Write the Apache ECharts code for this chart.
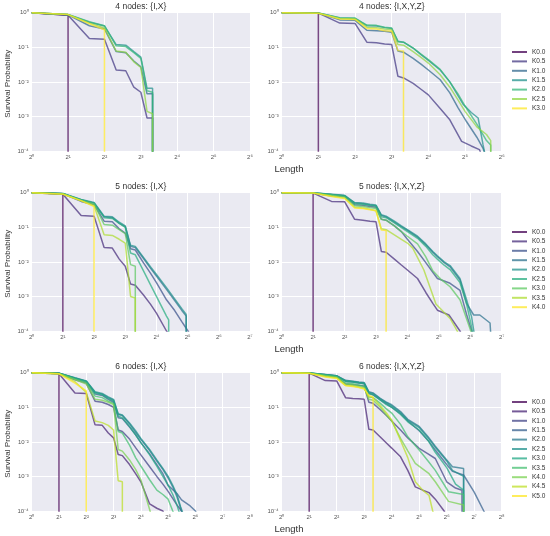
<!DOCTYPE html>
<html><head><meta charset="utf-8">
<script src="https://cdn.jsdelivr.net/npm/echarts@6/dist/echarts.min.js"></script>
<style>html,body{margin:0;padding:0;background:#fff}#c{width:550px;height:536px}</style>
</head><body><div id="c"></div><script>
// ---------- tick / legend labels ----------
const keys4 = ['K0.0','K0.5','K1.0','K1.5','K2.0','K2.5','K3.0'];
const keys5 = ['K0.0','K0.5','K1.0','K1.5','K2.0','K2.5','K3.0','K3.5','K4.0'];
const keys6 = ['K0.0','K0.5','K1.0','K1.5','K2.0','K2.5','K3.0','K3.5','K4.0','K4.5','K5.0'];
const viridis7 = ['#440154','#443983','#31688e','#21918c','#35b779','#90d743','#fde725'];
const viridis9 = ['#440154','#472d7b','#3b528b','#2c728e','#21918c','#28ae80','#5ec962','#addc30','#fde725'];
const viridis11 = ['#440154','#482475','#414487','#355f8d','#2a788e','#21918c','#22a884','#44bf70','#7ad151','#bddf26','#fde725'];
const titles = ['4 nodes: {I,X}','4 nodes: {I,X,Y,Z}','5 nodes: {I,X}','5 nodes: {I,X,Y,Z}','6 nodes: {I,X}','6 nodes: {I,X,Y,Z}'];
const xMaxByRow = [64, 128, 256];
const yMin = 1e-4, yMax = 1;

// ---------- data: [length, survival probability]; 0 = survival reached zero ----------
const n4IX = [
 [[1,1],[2,0.85],[2,0]],
 [[1,1],[2,0.85],[3,0.18],[4,0.17],[5,0.022],[6,0.021],[7,0.007],[8,0.005],[9,0.0009],[10,0.0009],[10,0]],
 [[1,1],[2,0.87],[3,0.42],[4,0.34],[5,0.075],[6,0.07],[7,0.04],[8,0.027],[9,0.0045],[10,0.0045],[10,0]],
 [[1,1],[2,0.88],[3,0.53],[4,0.41],[5,0.12],[6,0.115],[7,0.075],[8,0.052],[9,0.0065],[10,0.0065],[10,0]],
 [[1,1],[2,0.89],[3,0.55],[4,0.42],[5,0.11],[6,0.105],[7,0.07],[8,0.048],[9,0.0055],[10,0.005],[10,0]],
 [[1,1],[2,0.88],[3,0.5],[4,0.36],[5,0.078],[6,0.072],[7,0.038],[8,0.026],[9,0.0014],[10,0.0012],[10,0]],
 [[1,1],[2,0.88],[3,0.48],[4,0.32],[4,0]]
];
const n4IXYZ = [
 [[1,1],[2,0.98],[2,0]],
 [[1,1],[2,0.97],[3,0.5],[4,0.49],[5,0.14],[6,0.135],[7,0.125],[8,0.12],[9,0.0145],[10,0.013],[12,0.009],[14,0.006],[16,0.0042],[20,0.0017],[24,0.0008],[30,0.00019],[36,0.00014],[42,0.00011],[46,0.00005]],
 [[1,1],[2,0.97],[3,0.62],[4,0.6],[5,0.31],[6,0.3],[7,0.29],[8,0.27],[9,0.078],[10,0.072],[12,0.048],[14,0.032],[16,0.022],[20,0.0115],[24,0.0048],[28,0.0018],[33,0.0007],[40,0.00025],[45,0.00012],[48,0.00006]],
 [[1,1],[2,0.98],[3,0.7],[4,0.68],[5,0.42],[6,0.41],[7,0.37],[8,0.35],[9,0.15],[10,0.14],[12,0.095],[14,0.06],[16,0.042],[20,0.022],[24,0.01],[28,0.004],[31,0.0022],[36,0.0013],[41,0.0009],[45,0.00015],[48,0.00005]],
 [[1,1],[2,0.98],[3,0.72],[4,0.7],[5,0.44],[6,0.43],[7,0.38],[8,0.36],[9,0.145],[10,0.14],[12,0.095],[14,0.062],[16,0.044],[20,0.023],[24,0.01],[28,0.0045],[32,0.002],[40,0.0006],[48,0.0002],[52,0.00015],[52,0]],
 [[1,1],[2,0.97],[3,0.68],[4,0.66],[5,0.38],[6,0.37],[7,0.34],[8,0.32],[9,0.12],[10,0.115],[12,0.075],[14,0.05],[16,0.035],[20,0.016],[24,0.007],[28,0.003],[32,0.0014],[40,0.0005],[48,0.0003],[52,0.0002],[52,0]],
 [[1,1],[2,0.97],[3,0.66],[4,0.64],[5,0.35],[6,0.34],[7,0.3],[8,0.29],[9,0.08],[10,0.078],[10,0]]
];
const n5IX = [
 [[1,1],[2,0.93],[2,0]],
 [[1,1],[2,0.9],[3,0.22],[4,0.21],[5,0.026],[6,0.025],[7,0.012],[8,0.0075],[9,0.0023],[10,0.0021],[12,0.0011],[14,0.0006],[16,0.00033],[20,0.0001],[22,0.00007]],
 [[1,1],[2,0.93],[3,0.56],[4,0.45],[5,0.15],[6,0.145],[7,0.09],[8,0.068],[9,0.024],[10,0.022],[12,0.0093],[14,0.0047],[16,0.0025],[20,0.0008],[24,0.00039],[28,0.00019],[31,0.00012],[33,0.00009]],
 [[1,1],[2,0.94],[3,0.62],[4,0.5],[5,0.2],[6,0.19],[7,0.13],[8,0.105],[9,0.028],[10,0.026],[12,0.0125],[14,0.0066],[16,0.0039],[20,0.0016],[24,0.00076],[28,0.0004],[31,0.00027],[31,0]],
 [[1,1],[2,0.95],[3,0.64],[4,0.52],[5,0.21],[6,0.2],[7,0.14],[8,0.11],[9,0.03],[10,0.028],[12,0.0135],[14,0.0072],[16,0.0043],[20,0.0018],[24,0.00085],[28,0.00045],[31,0.0003],[31,0]],
 [[1,1],[2,0.95],[3,0.63],[4,0.5],[5,0.19],[6,0.18],[7,0.13],[8,0.1],[9,0.018],[10,0.016],[12,0.0055],[14,0.0022],[16,0.001],[20,0.00027],[21,0.00021],[21,0]],
 [[1,1],[2,0.93],[3,0.6],[4,0.47],[5,0.12],[6,0.115],[7,0.085],[8,0.065],[9,0.0083],[10,0.0075],[10,0]],
 [[1,1],[2,0.92],[3,0.58],[4,0.42],[5,0.061],[6,0.058],[7,0.045],[8,0.035],[9,0.001],[10,0.0009],[10,0]],
 [[1,1],[2,0.9],[3,0.59],[4,0.4],[4,0]]
];
const n5IXYZ = [
 [[1,1],[2,0.98],[2,0]],
 [[1,1],[2,0.97],[3,0.56],[4,0.55],[5,0.17],[6,0.16],[7,0.15],[8,0.145],[9,0.02],[10,0.019],[12,0.012],[14,0.0081],[16,0.0058],[20,0.0033],[24,0.0013],[28,0.00063],[31,0.0004],[40,0.00029],[51,0.0001],[54,0.00007]],
 [[1,1],[2,0.98],[3,0.8],[4,0.78],[5,0.45],[6,0.43],[7,0.4],[8,0.38],[9,0.17],[10,0.16],[12,0.11],[14,0.075],[16,0.045],[20,0.02],[24,0.0095],[28,0.005],[31,0.0033],[36,0.0028],[41,0.0024],[51,0.0015],[59,0.0003],[66,0.0001],[70,0.00006]],
 [[1,1],[2,0.98],[3,0.88],[4,0.82],[5,0.5],[6,0.48],[7,0.44],[8,0.42],[9,0.22],[10,0.2],[12,0.14],[14,0.105],[16,0.081],[20,0.052],[24,0.031],[28,0.019],[31,0.014],[36,0.0095],[41,0.0072],[51,0.003],[59,0.00063],[69,0.00029],[79,0.00029],[99,0.00017],[102,0.00004]],
 [[1,1],[2,0.99],[3,0.9],[4,0.84],[5,0.52],[6,0.5],[7,0.46],[8,0.44],[9,0.23],[10,0.21],[12,0.15],[14,0.11],[16,0.085],[20,0.055],[24,0.033],[28,0.02],[31,0.015],[36,0.01],[41,0.0078],[51,0.0033],[59,0.0008],[66,0.00025],[70,0.00008]],
 [[1,1],[2,0.99],[3,0.88],[4,0.8],[5,0.48],[6,0.46],[7,0.43],[8,0.41],[9,0.2],[10,0.19],[12,0.135],[14,0.098],[16,0.075],[20,0.048],[24,0.028],[28,0.016],[31,0.012],[36,0.008],[41,0.006],[51,0.0025],[59,0.0006],[64,0.0002],[68,0.00008]],
 [[1,1],[2,0.98],[3,0.85],[4,0.75],[5,0.42],[6,0.4],[7,0.37],[8,0.35],[9,0.17],[10,0.16],[12,0.11],[14,0.075],[16,0.055],[20,0.033],[24,0.014],[28,0.0055],[34,0.003],[41,0.0019],[51,0.0008],[64,0.00011],[68,0.00006]],
 [[1,1],[2,0.98],[3,0.8],[4,0.7],[5,0.38],[6,0.36],[7,0.33],[8,0.3],[9,0.09],[10,0.085],[12,0.06],[14,0.045],[16,0.035],[18,0.025],[23,0.0058],[30,0.0006],[41,0.00023],[48,0.0001],[52,0.00006]],
 [[1,1],[2,0.98],[3,0.78],[4,0.68],[5,0.36],[6,0.35],[7,0.32],[8,0.3],[9,0.083],[10,0.08],[10,0]]
];
const n6IX = [
 [[1,1],[2,0.95],[2,0]],
 [[1,1],[2,0.93],[3,0.26],[4,0.25],[5,0.031],[6,0.03],[7,0.018],[8,0.013],[9,0.0043],[10,0.004],[12,0.0022],[14,0.0012],[16,0.0007],[20,0.00016],[24,0.00012],[28,0.0001],[30,0.00006]],
 [[1,1],[2,0.95],[3,0.62],[4,0.5],[5,0.15],[6,0.14],[7,0.12],[8,0.1],[9,0.022],[10,0.02],[12,0.012],[14,0.0068],[16,0.0042],[20,0.0019],[24,0.001],[28,0.0006],[32,0.00037],[40,0.00015],[45,0.0001],[48,0.00007]],
 [[1,1],[2,0.96],[3,0.68],[4,0.55],[5,0.24],[6,0.22],[7,0.17],[8,0.14],[9,0.05],[10,0.047],[12,0.027],[14,0.016],[16,0.0095],[20,0.0045],[24,0.0022],[28,0.0012],[32,0.00055],[40,0.00032],[45,0.00021],[56,0.00014],[64,0.0001],[68,0.00007]],
 [[1,1],[2,0.96],[3,0.7],[4,0.57],[5,0.27],[6,0.24],[7,0.19],[8,0.16],[9,0.062],[10,0.058],[12,0.033],[14,0.019],[16,0.0118],[20,0.0056],[24,0.0028],[28,0.0016],[32,0.0009],[36,0.0005],[40,0.00026],[44,0.00012],[47,0.00006]],
 [[1,1],[2,0.96],[3,0.71],[4,0.58],[5,0.28],[6,0.25],[7,0.2],[8,0.17],[9,0.065],[10,0.06],[12,0.035],[14,0.021],[16,0.0125],[20,0.006],[24,0.003],[28,0.0017],[32,0.001],[36,0.00055],[40,0.0003],[44,0.00013],[48,0.00007]],
 [[1,1],[2,0.96],[3,0.69],[4,0.56],[5,0.26],[6,0.23],[7,0.18],[8,0.15],[9,0.055],[10,0.05],[12,0.028],[14,0.016],[16,0.0095],[20,0.0042],[24,0.002],[28,0.001],[32,0.00055],[36,0.0003],[40,0.00015],[42,0.0001],[44,0.00006]],
 [[1,1],[2,0.95],[3,0.66],[4,0.52],[5,0.21],[6,0.19],[7,0.15],[8,0.13],[9,0.02],[10,0.018],[12,0.008],[14,0.0035],[16,0.002],[20,0.0008],[24,0.0004],[28,0.0003],[32,0.00022],[36,0.0001],[38,0.00007]],
 [[1,1],[2,0.94],[3,0.63],[4,0.47],[5,0.17],[6,0.16],[7,0.14],[8,0.12],[9,0.006],[10,0.0054],[12,0.003],[14,0.0016],[16,0.0008],[20,0.00011],[21,0.00007]],
 [[1,1],[2,0.93],[3,0.55],[4,0.27],[5,0.04],[6,0.036],[7,0.03],[8,0.022],[9,0.00075],[10,0.0007],[10,0]],
 [[1,1],[2,0.93],[3,0.5],[4,0.3],[4,0]]
];
const n6IXYZ = [
 [[1,1],[2,0.98],[2,0]],
 [[1,1],[2,0.97],[3,0.59],[4,0.58],[5,0.19],[6,0.18],[7,0.175],[8,0.17],[9,0.023],[10,0.022],[12,0.0138],[14,0.0093],[16,0.0066],[20,0.0037],[24,0.0015],[29,0.0005],[35,0.0004],[41,0.00034],[48,0.00022],[60,0.0001],[64,0.00007]],
 [[1,1],[2,0.97],[3,0.8],[4,0.75],[5,0.47],[6,0.45],[7,0.43],[8,0.41],[9,0.14],[10,0.13],[12,0.085],[14,0.058],[16,0.04],[20,0.022],[24,0.013],[32,0.0065],[40,0.0045],[48,0.0033],[64,0.0007],[80,0.00046],[94,0.0004],[96,0]],
 [[1,1],[2,0.98],[3,0.86],[4,0.8],[5,0.56],[6,0.54],[7,0.5],[8,0.48],[9,0.25],[10,0.23],[12,0.165],[14,0.125],[16,0.1],[20,0.065],[24,0.04],[32,0.021],[40,0.011],[48,0.0058],[64,0.0022],[74,0.0014],[98,0.0011],[128,0.00035],[163,0.0001],[170,0.00008]],
 [[1,1],[2,0.98],[3,0.88],[4,0.82],[5,0.6],[6,0.57],[7,0.54],[8,0.52],[9,0.28],[10,0.26],[12,0.18],[14,0.14],[16,0.118],[20,0.075],[24,0.045],[32,0.028],[40,0.014],[48,0.0075],[64,0.003],[74,0.0019],[98,0.0017],[98,0]],
 [[1,1],[2,0.98],[3,0.88],[4,0.81],[5,0.59],[6,0.56],[7,0.52],[8,0.5],[9,0.27],[10,0.25],[12,0.175],[14,0.135],[16,0.11],[20,0.07],[24,0.042],[32,0.026],[40,0.013],[48,0.007],[64,0.0028],[74,0.0015],[98,0.001],[98,0]],
 [[1,1],[2,0.98],[3,0.87],[4,0.8],[5,0.57],[6,0.54],[7,0.5],[8,0.48],[9,0.25],[10,0.23],[12,0.16],[14,0.12],[16,0.1],[20,0.062],[24,0.038],[32,0.022],[40,0.011],[48,0.005],[64,0.0018],[80,0.0006],[98,0.0004],[98,0]],
 [[1,1],[2,0.98],[3,0.84],[4,0.76],[5,0.5],[6,0.48],[7,0.44],[8,0.4],[9,0.2],[10,0.19],[12,0.13],[14,0.09],[16,0.068],[20,0.032],[24,0.014],[32,0.0058],[40,0.0028],[48,0.0015],[67,0.00036],[98,0.0003],[98,0]],
 [[1,1],[2,0.97],[3,0.82],[4,0.73],[5,0.46],[6,0.44],[7,0.4],[8,0.37],[9,0.17],[10,0.16],[12,0.1],[14,0.06],[16,0.04],[20,0.0126],[24,0.0055],[29,0.0024],[41,0.0012],[48,0.0007],[67,0.00019],[98,0.00015],[98,0]],
 [[1,1],[2,0.97],[3,0.78],[4,0.7],[5,0.43],[6,0.41],[7,0.38],[8,0.35],[9,0.2],[10,0.19],[12,0.11],[14,0.068],[16,0.043],[20,0.011],[24,0.0035],[29,0.0007],[35,0.0004],[41,0.00028],[45,0.0001],[48,0.00006]],
 [[1,1],[2,0.97],[3,0.75],[4,0.68],[5,0.42],[6,0.4],[7,0.37],[8,0.34],[9,0.22],[10,0.2],[10,0]]
];

// ---------- layout ----------
const FONT = '"Liberation Sans", Arial, sans-serif';
const ROW_TOP = [12.7, 192.7, 372.7], GRID_H = 138.3;
const COL_LEFT = [31.7, 281.7], COL_W = [218.3, 220];
const LEG_TOP = [47.5, 227.5, 397.5];
const ZERO = 1e-8; // survival probability 0 drawn below the visible log range

const panels = [
 {data:n4IX,   keys:keys4, colors:viridis7,  row:0, col:0},
 {data:n4IXYZ, keys:keys4, colors:viridis7,  row:0, col:1},
 {data:n5IX,   keys:keys5, colors:viridis9,  row:1, col:0},
 {data:n5IXYZ, keys:keys5, colors:viridis9,  row:1, col:1},
 {data:n6IX,   keys:keys6, colors:viridis11, row:2, col:0},
 {data:n6IXYZ, keys:keys6, colors:viridis11, row:2, col:1}
];
const SUP = {'0':'⁰','1':'¹','2':'²','3':'³','4':'⁴','5':'⁵','6':'⁶','7':'⁷','8':'⁸','9':'⁹','-':'⁻'};
const sup = n => String(n).split('').map(c => SUP[c]).join('');

const grid = [], xAxis = [], yAxis = [], series = [], graphic = [], legend = [];
const tickLabel = {fontSize:6, color:'#555', fontFamily:FONT, margin:3};
panels.forEach((p, i) => {
  grid.push({left:COL_LEFT[p.col], top:ROW_TOP[p.row], width:COL_W[p.col], height:GRID_H,
    show:true, backgroundColor:'#EAEAF2', borderWidth:0});
  xAxis.push({type:'log', logBase:2, min:1, max:xMaxByRow[p.row], gridIndex:i,
    axisLine:{show:false}, axisTick:{show:false},
    splitLine:{show:true, lineStyle:{color:'#ffffff', width:1}},
    axisLabel:Object.assign({formatter: v => '2' + sup(Math.round(Math.log2(v))), showMinLabel:true, showMaxLabel:true}, tickLabel)});
  yAxis.push({type:'log', logBase:10, min:yMin, max:yMax, gridIndex:i,
    axisLine:{show:false}, axisTick:{show:false},
    splitLine:{show:true, lineStyle:{color:'#ffffff', width:1}},
    axisLabel:Object.assign({formatter: v => '10' + sup(Math.round(Math.log10(v))), showMinLabel:true, showMaxLabel:true}, tickLabel)});
  p.data.forEach((d, k) => {
    series.push({type:'line', name:'r' + p.row + '|' + p.keys[k], xAxisIndex:i, yAxisIndex:i,
      data:d.map(([x, y]) => [x, y > 0 ? y : ZERO]),
      showSymbol:false, symbol:'none', clip:true, silent:true, z:2 + k,
      lineStyle:{color:p.colors[k], width:1.5, opacity:0.72},
      itemStyle:{color:p.colors[k]}});
  });
  const cx = COL_LEFT[p.col] + COL_W[p.col] / 2;
  graphic.push({type:'text', x:cx, y:ROW_TOP[p.row] - 6, silent:true,
    style:{text:titles[i], font:'8.5px ' + FONT, fill:'#333', align:'center', verticalAlign:'middle'}});
});
[0,1,2].forEach(r => {
  const p = panels[r * 2 + 1];
  legend.push({orient:'vertical', left:512, top:LEG_TOP[r], padding:0, itemGap:0.4,
    itemWidth:15, itemHeight:2, icon:'rect', selectedMode:false,
    data:p.keys.map((k, j) => ({name:'r' + r + '|' + k, itemStyle:{color:p.colors[j], opacity:0.75}})),
    formatter: n => n.split('|')[1],
    textStyle:{fontSize:6.5, lineHeight:9, color:'#333', fontFamily:FONT}});
  graphic.push({type:'text', x:7.5, y:ROW_TOP[r] + GRID_H / 2 + 2, rotation:Math.PI / 2, silent:true,
    style:{text:'Survival Probability', font:'8px ' + FONT, fill:'#333', align:'center', verticalAlign:'middle'}});
  graphic.push({type:'text', x:289, y:ROW_TOP[r] + 157, silent:true,
    style:{text:'Length', font:'9.5px ' + FONT, fill:'#333', align:'center', verticalAlign:'middle'}});
});

const chart = echarts.init(document.getElementById('c'), null, {renderer:'canvas'});
chart.setOption({animation:false, backgroundColor:'#ffffff', grid, xAxis, yAxis, series, legend, graphic, tooltip:{show:false}});
</script></body></html>
